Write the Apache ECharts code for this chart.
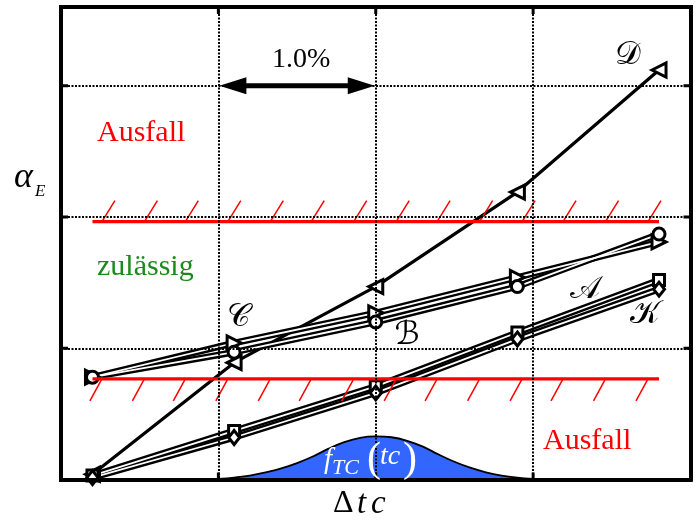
<!DOCTYPE html>
<html>
<head>
<meta charset="utf-8">
<script src="https://cdn.jsdelivr.net/npm/echarts@6/dist/echarts.min.js"></script>
<style>
  html, body { margin: 0; padding: 0; background: #fff; }
  #chart { width: 700px; height: 522px; }
</style>
</head>
<body>
<div id="chart"></div>
<script>
// Positions of the five evaluated steps along Δtc
const tcSteps = [0.2, 1.1, 2.0, 2.9, 3.8];

// α_E for each configuration
const seriesA = [0.03, 0.37, 0.71, 1.12, 1.52];   // squares
const seriesB = [0.78, 0.97, 1.20, 1.47, 1.87];   // circles
const seriesC = [0.78, 1.04, 1.27, 1.54, 1.81];   // right-pointing triangles
const seriesD = [0.04, 0.89, 1.47, 2.19, 3.12];   // left-pointing triangles
const seriesK = [0.015, 0.32, 0.66, 1.07, 1.45];  // diamonds

// Grid ticks
const xTickValues = [1, 2, 3];
const yTickValues = [1, 2, 3];

// Permitted band and its hatch marks
const upperLimit = 1.965;
const lowerLimit = 0.766;
const limitSpan = [0.2, 3.8];
const hatchX = [0.26, 0.53, 0.79, 1.06, 1.33, 1.59, 1.86, 2.13, 2.39, 2.66, 2.93, 3.19, 3.46, 3.73];

// Spread of tc (density curve)
const densityX = [1.0, 1.1, 1.2, 1.3, 1.4, 1.5, 1.6, 1.7, 1.8, 1.9, 2.0, 2.1, 2.2, 2.3, 2.4, 2.5, 2.6, 2.7, 2.8, 2.9, 3.0];
const densityY = [0.004, 0.015, 0.03, 0.055, 0.085, 0.125, 0.175, 0.235, 0.285, 0.318, 0.328, 0.322, 0.295, 0.25, 0.19, 0.135, 0.09, 0.055, 0.03, 0.014, 0.004];

// 1.0 % span marker
const spanFrom = 1.0, spanTo = 2.0, spanLevel = 3.0;

const SERIF = '"Liberation Serif", "DejaVu Serif", serif';
const MATH = '"DejaVu Serif", "DejaVu Sans", "Liberation Serif", serif';

const pairs = ys => tcSteps.map((x, i) => [x, ys[i]]);

function doubleLine(ys) {
  return [
    { type: 'line', data: pairs(ys), symbol: 'none', z: 3, silent: true,
      lineStyle: { color: '#000', width: 6.5 } },
    { type: 'line', data: pairs(ys), symbol: 'none', z: 4, silent: true,
      lineStyle: { color: '#fff', width: 1.8 } }
  ];
}

function markers(ys, symbol, size, rotate) {
  return { type: 'scatter', data: pairs(ys), symbol: symbol, symbolSize: size,
    symbolRotate: rotate || 0, z: 6, silent: true,
    itemStyle: { color: '#fff', borderColor: '#000', borderWidth: 3, opacity: 1 } };
}

function hatchSeries(level, dx, dy) {
  return { type: 'custom', z: 9, silent: true,
    data: hatchX.map(x => [x, level]),
    renderItem: (params, api) => {
      const p = api.coord([api.value(0), api.value(1)]);
      return { type: 'line', shape: { x1: p[0], y1: p[1], x2: p[0] + dx, y2: p[1] + dy },
        style: { stroke: '#ff0000', lineWidth: 1.5 } };
    } };
}

function limitLine(level) {
  return { type: 'line', data: limitSpan.map(x => [x, level]), symbol: 'none', z: 9, silent: true,
    lineStyle: { color: '#ff0000', width: 3.2 } };
}

const frame = { show: true, onZero: false, lineStyle: { color: '#000', width: 4, cap: 'square' } };
const gridLine = { show: true, lineStyle: { color: '#000', width: 2, type: [2, 1.5] } };
const noTick = { show: false };
const TICK = 7;

const chart = echarts.init(document.getElementById('chart'), null, { renderer: 'canvas' });

function label(x, y, text, font, fill, align) {
  return { type: 'text', z: 100, x: x, y: y,
    style: { text: text, font: font, fill: fill || '#000', align: align || 'left', verticalAlign: 'middle' } };
}

chart.setOption({
  animation: false,
  backgroundColor: '#fff',
  grid: { left: 61, right: 9.5, top: 7, bottom: 42.5 },
  xAxis: [
    { type: 'value', min: 0, max: 4, interval: 1, position: 'bottom',
      axisLine: frame, axisLabel: { show: false }, axisTick: noTick, splitLine: gridLine, z: 10 },
    { type: 'value', min: 0, max: 4, interval: 1, position: 'top',
      axisLine: frame, axisLabel: { show: false }, axisTick: noTick, splitLine: { show: false }, z: 10 }
  ],
  yAxis: [
    { type: 'value', min: 0, max: 3.6, interval: 1, position: 'left',
      axisLine: frame, axisLabel: { show: false }, axisTick: noTick, splitLine: gridLine, z: 10 },
    { type: 'value', min: 0, max: 3.6, interval: 1, position: 'right',
      axisLine: frame, axisLabel: { show: false }, axisTick: noTick, splitLine: { show: false }, z: 10 }
  ],
  series: [
    // density of tc
    { type: 'line', data: densityX.map((x, i) => [x, densityY[i]]), symbol: 'none', smooth: 0.4, z: 2, silent: true,
      lineStyle: { color: '#000', width: 1.8 }, areaStyle: { color: '#3366ff', opacity: 1 } },
    // inward ticks on all four frame sides
    { type: 'custom', z: 11, silent: true, data: xTickValues.map(v => [v]),
      renderItem: (params, api) => {
        const cs = params.coordSys;
        const x = api.coord([api.value(0), 0])[0];
        const st = { stroke: '#000', lineWidth: 3 };
        return { type: 'group', children: [
          { type: 'line', shape: { x1: x, y1: cs.y + cs.height, x2: x, y2: cs.y + cs.height - TICK }, style: st },
          { type: 'line', shape: { x1: x, y1: cs.y, x2: x, y2: cs.y + TICK }, style: st }
        ] };
      } },
    { type: 'custom', z: 11, silent: true, data: yTickValues.map(v => [0, v]),
      renderItem: (params, api) => {
        const cs = params.coordSys;
        const y = api.coord([0, api.value(1)])[1];
        const st = { stroke: '#000', lineWidth: 3 };
        return { type: 'group', children: [
          { type: 'line', shape: { x1: cs.x, y1: y, x2: cs.x + TICK, y2: y }, style: st },
          { type: 'line', shape: { x1: cs.x + cs.width, y1: y, x2: cs.x + cs.width - TICK, y2: y }, style: st }
        ] };
      } },
    // configuration curves
    { type: 'line', data: pairs(seriesD), symbol: 'none', z: 3, silent: true, lineStyle: { color: '#000', width: 3.2 } },
    ...doubleLine(seriesC),
    ...doubleLine(seriesB),
    ...doubleLine(seriesA),
    ...doubleLine(seriesK),
    markers(seriesD, 'triangle', 14, 90),
    markers(seriesC, 'triangle', 14, -90),
    markers(seriesB, 'circle', 12),
    markers(seriesA, 'rect', 11),
    markers(seriesK, 'diamond', [11, 14]),
    // permitted band
    limitLine(upperLimit),
    limitLine(lowerLimit),
    hatchSeries(upperLimit, 13, -21),
    hatchSeries(lowerLimit, -12, 22),
    // 1.0 % span arrow
    { type: 'custom', z: 7, silent: true, data: [[spanFrom, spanLevel, spanTo]],
      renderItem: (params, api) => {
        const a = api.coord([api.value(0), api.value(1)]);
        const b = api.coord([api.value(2), api.value(1)]);
        const head = 28, half = 8.5, y = a[1];
        return { type: 'group', children: [
          { type: 'rect', shape: { x: a[0] + head - 2, y: y - 2.5, width: b[0] - a[0] - 2 * head + 4, height: 5 },
            style: { fill: '#000' } },
          { type: 'polygon', shape: { points: [[a[0] + 1, y], [a[0] + head, y - half], [a[0] + head, y + half]] },
            style: { fill: '#000' } },
          { type: 'polygon', shape: { points: [[b[0] - 1, y], [b[0] - head, y - half], [b[0] - head, y + half]] },
            style: { fill: '#000' } }
        ] };
      } }
  ],
  graphic: { elements: [
    label(272, 60, '1.0%', '28px ' + SERIF),
    label(97, 133, 'Ausfall', '30px ' + SERIF, '#ff0000'),
    label(543, 441, 'Ausfall', '30px ' + SERIF, '#ff0000'),
    label(97, 267, 'zulässig', '30px ' + SERIF, '#1a8a1a'),
    // y axis title α_E
    label(14, 178, 'α', 'italic 36px ' + SERIF),
    label(35, 192, 'E', 'italic 17px ' + SERIF),
    // x axis title Δtc
    label(333, 504, 'Δ', '32px ' + SERIF),
    label(357, 504, 't', 'italic 33px ' + SERIF),
    label(371, 504, 'c', 'italic 33px ' + SERIF),
    // density label f_TC(tc)
    label(324, 460, 'f', 'italic 29px ' + SERIF, '#fff'),
    label(332, 468, 'TC', 'italic 22px ' + SERIF, '#fff'),
    label(367, 460, '(', '42px ' + SERIF, '#fff'),
    label(380, 457, 'tc', 'italic 28px ' + SERIF, '#fff'),
    label(403, 460, ')', '42px ' + SERIF, '#fff'),
    // configuration names
    label(628, 56, '𝒟', '32px ' + MATH, '#000', 'center'),
    label(238, 318, '𝒞', '32px ' + MATH, '#000', 'center'),
    label(407, 336, 'ℬ', '32px ' + MATH, '#000', 'center'),
    label(585, 290, '𝒜', '32px ' + MATH, '#000', 'center'),
    label(645, 315, '𝒦', '32px ' + MATH, '#000', 'center')
  ] }
});
</script>
</body>
</html>
